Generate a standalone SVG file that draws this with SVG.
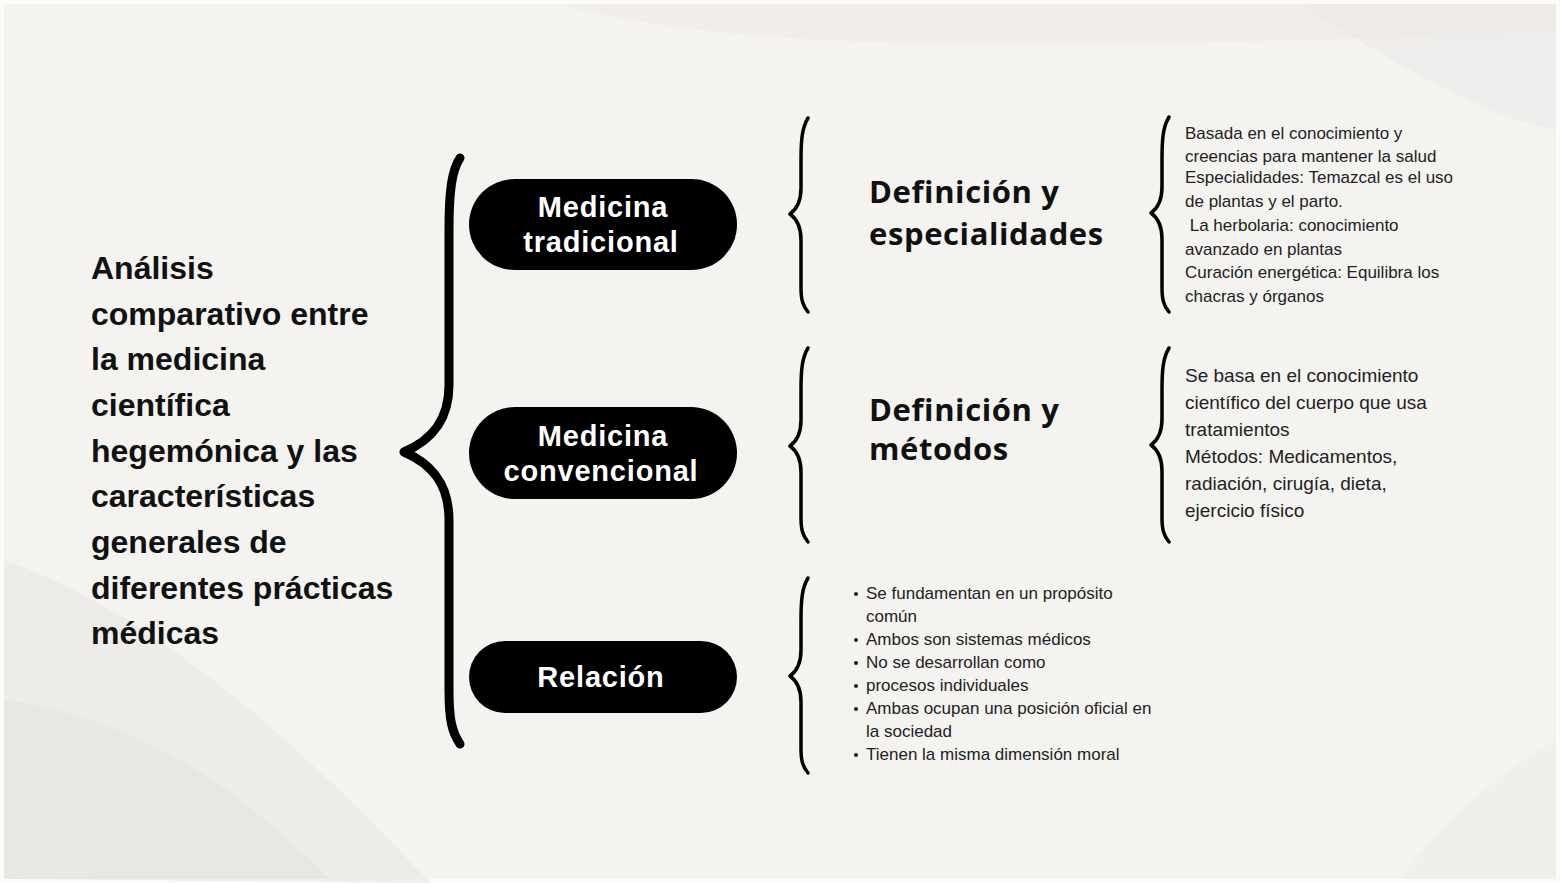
<svg xmlns="http://www.w3.org/2000/svg" width="1560" height="883" viewBox="0 0 1560 883">
<style>
.bg{fill:#f4f3f0}
.title{font-family:"Liberation Sans",Arial,sans-serif;font-weight:700;font-size:32px;fill:#111}
.pill{fill:#000}
.pilltxt{font-family:"Liberation Sans",Arial,sans-serif;font-weight:700;font-size:29px;letter-spacing:0.8px;fill:#fff;text-anchor:middle}
.head{font-family:"Open Sans","Liberation Sans",sans-serif;font-weight:700;font-size:31px;letter-spacing:0.6px;fill:#111}
.body17{font-family:"Liberation Sans",Arial,sans-serif;font-size:17px;fill:#222}
.body19{font-family:"Liberation Sans",Arial,sans-serif;font-size:19px;fill:#222}
.big{fill:none;stroke:#000;stroke-width:9;stroke-linecap:round;stroke-linejoin:round}
.small{fill:none;stroke:#000;stroke-width:3.5;stroke-linecap:round;stroke-linejoin:round}
.dot{fill:#222}
</style>
<rect width="1560" height="883" fill="#fbfbfa"/>
<rect x="4" y="4" width="1552" height="875" class="bg"/>
<path d="M4,560 C120,600 260,700 430,883 L4,879 Z" fill="#e8e7e4" opacity="0.6"/>
<path d="M4,700 C150,720 250,800 330,879 L4,879 Z" fill="#e2e1de" opacity="0.5"/>
<path d="M560,4 C700,40 900,60 1556,30 L1556,4 Z" fill="#eceae7" opacity="0.6"/>
<path d="M1300,4 C1420,80 1500,120 1556,130 L1556,4 Z" fill="#e9e8e5" opacity="0.5"/>
<path d="M1400,879 C1460,800 1520,760 1556,740 L1556,879 Z" fill="#eeedea" opacity="0.6"/>

<g id="title">
<text class="title" x="91" y="279">Análisis</text>
<text class="title" x="91" y="325">comparativo entre</text>
<text class="title" x="91" y="370">la medicina</text>
<text class="title" x="91" y="416">científica</text>
<text class="title" x="91" y="462">hegemónica y las</text>
<text class="title" x="91" y="507">características</text>
<text class="title" x="91" y="553">generales de</text>
<text class="title" x="91" y="599">diferentes prácticas</text>
<text class="title" x="91" y="644">médicas</text>
</g>

<g id="connectors">
<path class="big" d="M460,158 C452,170 449,190 449,230 L449,385 C449,420 432,440 404,452 C432,464 449,484 449,520 L449,690 C449,720 452,732 460,744"/>
<path class="small" d="M808,118 C802,128 801,140 801,160 L801,188 C801,202 797,209 790,214 C797,219 801,226 801,240 L801,288 C801,300 803,306 808,312"/>
<path class="small" d="M808,348 C802,358 801,370 801,390 L801,420 C801,434 797,441 790,446 C797,451 801,458 801,472 L801,518 C801,530 803,536 808,542"/>
<path class="small" d="M808,578 C802,588 801,600 801,620 L801,650 C801,664 797,671 790,676 C797,681 801,688 801,702 L801,749 C801,761 803,767 808,773"/>
<path class="small" d="M1169,117 C1163,127 1162,139 1162,159 L1162,187 C1162,201 1158,208 1151,213 C1158,218 1162,225 1162,239 L1162,288 C1162,300 1164,306 1169,312"/>
<path class="small" d="M1169,348 C1163,358 1162,370 1162,390 L1162,419 C1162,433 1158,440 1151,445 C1158,450 1162,457 1162,471 L1162,518 C1162,530 1164,536 1169,542"/>
</g>

<g id="node-tradicional">
<rect class="pill" x="469" y="179" width="268" height="91" rx="45.5"/>
<text class="pilltxt" x="603" y="217">Medicina</text>
<text class="pilltxt" x="601" y="252">tradicional</text>
</g>
<g id="node-convencional">
<rect class="pill" x="469" y="407" width="268" height="92" rx="46"/>
<text class="pilltxt" x="603" y="446">Medicina</text>
<text class="pilltxt" x="601" y="481">convencional</text>
</g>
<g id="node-relacion">
<rect class="pill" x="469" y="641" width="268" height="72" rx="36"/>
<text class="pilltxt" x="601" y="687">Relación</text>
</g>

<g id="node-def-especialidades">
<text class="head" x="869" y="203">Definición y</text>
<text class="head" x="869" y="245">especialidades</text>
</g>
<g id="node-def-metodos">
<text class="head" x="869" y="421">Definición y</text>
<text class="head" x="869" y="460">métodos</text>
</g>

<g id="node-detalle-tradicional">
<text class="body17" x="1185" y="139">Basada en el conocimiento y</text>
<text class="body17" x="1185" y="162">creencias para mantener la salud</text>
<text class="body17" x="1185" y="183">Especialidades: Temazcal es el uso</text>
<text class="body17" x="1185" y="207">de plantas y el parto.</text>
<text class="body17" x="1185" y="231" xml:space="preserve"> La herbolaria: conocimiento</text>
<text class="body17" x="1185" y="255">avanzado en plantas</text>
<text class="body17" x="1185" y="278">Curación energética: Equilibra los</text>
<text class="body17" x="1185" y="302">chacras y órganos</text>
</g>

<g id="node-detalle-convencional">
<text class="body19" x="1185" y="382">Se basa en el conocimiento</text>
<text class="body19" x="1185" y="409">científico del cuerpo que usa</text>
<text class="body19" x="1185" y="436">tratamientos</text>
<text class="body19" x="1185" y="463">Métodos: Medicamentos,</text>
<text class="body19" x="1185" y="490">radiación, cirugía, dieta,</text>
<text class="body19" x="1185" y="517">ejercicio físico</text>
</g>

<g id="node-detalle-relacion">
<circle class="dot" cx="856" cy="594" r="2"/>
<text class="body17" x="866" y="599">Se fundamentan en un propósito</text>
<text class="body17" x="866" y="622">común</text>
<circle class="dot" cx="856" cy="640" r="2"/>
<text class="body17" x="866" y="645">Ambos son sistemas médicos</text>
<circle class="dot" cx="856" cy="663" r="2"/>
<text class="body17" x="866" y="668">No se desarrollan como</text>
<circle class="dot" cx="856" cy="686" r="2"/>
<text class="body17" x="866" y="691">procesos individuales</text>
<circle class="dot" cx="856" cy="709" r="2"/>
<text class="body17" x="866" y="714">Ambas ocupan una posición oficial en</text>
<text class="body17" x="866" y="737">la sociedad</text>
<circle class="dot" cx="856" cy="755" r="2"/>
<text class="body17" x="866" y="760">Tienen la misma dimensión moral</text>
</g>
</svg>
